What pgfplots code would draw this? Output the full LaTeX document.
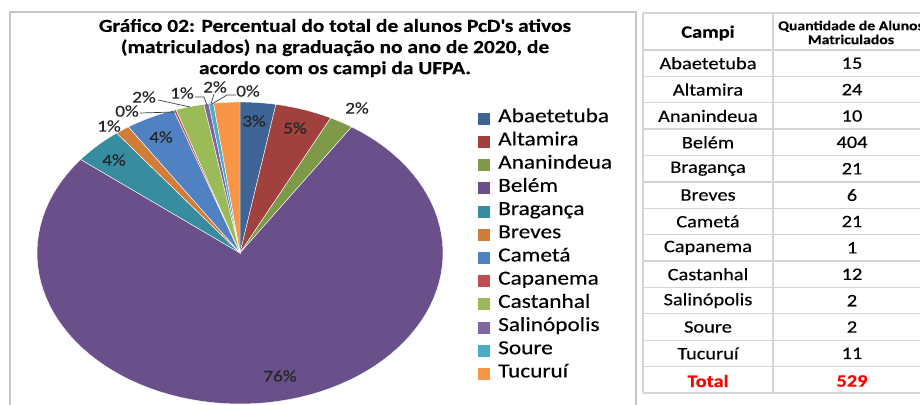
\documentclass[border=0pt]{standalone}
\usepackage{pgfplots}
\pgfplotsset{compat=1.18}
\usepackage{pgfplotstable}
\usepackage{fontspec}
\setmainfont{Carlito}[FakeStretch=1.17, FakeBold=0.3]

\definecolor{fatia0}{HTML}{3E6496}
\definecolor{fatia1}{HTML}{A0413E}
\definecolor{fatia2}{HTML}{7E9948}
\definecolor{fatia3}{HTML}{69508A}
\definecolor{fatia4}{HTML}{388CA0}
\definecolor{fatia5}{HTML}{D27D37}
\definecolor{fatia6}{HTML}{5082C3}
\definecolor{fatia7}{HTML}{C0504D}
\definecolor{fatia8}{HTML}{9BBB59}
\definecolor{fatia9}{HTML}{8064A2}
\definecolor{fatia10}{HTML}{4BACC6}
\definecolor{fatia11}{HTML}{F79646}
\definecolor{rotulo}{HTML}{262626}
\definecolor{grade}{HTML}{D4D4D4}

% alunos PcD matriculados por campus
\pgfplotstableread{
campus n
Abaetetuba 15
Altamira 24
Ananindeua 10
Belém 404
Bragança 21
Breves 6
Cametá 21
Capanema 1
Castanhal 12
Salinópolis 2
Soure 2
Tucuruí 11
}\dados

\begin{document}
\begin{tikzpicture}
\path[use as bounding box] (0bp,0bp) rectangle (920bp,405bp);

% total
\pgfmathsetmacro\total{0}
\pgfplotsforeachungrouped \i in {0,...,11}{%
  \pgfplotstablegetelem{\i}{n}\of\dados
  \pgfmathsetmacro\total{\total+\pgfplotsretval}}

\begin{axis}[
  at={(240bp,152bp)}, anchor=center,
  width=406bp, height=302bp, scale only axis,
  xmin=-1, xmax=1, ymin=-1, ymax=1,
  hide axis, clip=false,
  legend cell align=left,
  legend image code/.code={\fill[#1,draw=none] (0bp,-6bp) rectangle (12bp,6bp);},
  legend style={at={(1.0788,0.99)}, anchor=north west, draw=none, fill=none,
    font=\fontsize{20}{24}\selectfont, row sep=0pt, column sep=8bp,
    nodes={inner sep=0pt, text height=15bp, text depth=8.2bp}},
]
\pgfmathsetmacro\acum{0}
\pgfplotsforeachungrouped \i in {0,...,11}{%
  \pgfplotstablegetelem{\i}{n}\of\dados
  \pgfmathsetmacro\aIni{90-360*(\acum/\total)}
  \pgfmathsetmacro\acum{\acum+\pgfplotsretval}
  \pgfmathsetmacro\aFim{90-360*(\acum/\total)}
  \pgfplotstablegetelem{\i}{campus}\of\dados
  \edef\nome{\pgfplotsretval}
  \edef\cmd{\noexpand\addplot[fill=fatia\i, draw=white, line width=0.4bp,
      domain=\aFim:\aIni, samples=90, variable=\noexpand\t]
      ({cos(\noexpand\t)},{sin(\noexpand\t)}) -- (axis cs:0,0) -- cycle;
    \noexpand\addlegendentry{\nome}}%
  \cmd
}
\end{axis}

\begin{scope}[x=1bp,y=1bp]
% moldura do grafico
\draw[gray!45, line width=1.3bp] (10,-10) -- (10,393) -- (636,393) -- (636,-10);

\node[align=center, font=\bfseries\fontsize{18.4}{21.2}\selectfont] at (335,405-48)
  {Gráfico 02: Percentual do total de alunos PcD\textquotesingle s ativos\\
   (matriculados) na graduação no ano de 2020, de\\
   acordo com os campi da UFPA.};

% rotulos de porcentagem
\foreach \px/\py/\txt in {254/121/3\%, 295/128/5\%, 357/108/2\%, 114/160/4\%,
    161/137/4\%, 109/126/1\%, 127/111/0\%, 144/97/2\%, 182/93/1\%,
    215/87/2\%, 248/91/0\%, 280/376/76\%}
  \node[text=rotulo, font=\fontsize{16.5}{18}\selectfont, inner sep=0pt]
    at (\px,405-\py) {\txt};

% linhas guia
\begin{scope}[black!75, line width=0.7bp]
\draw (140,405-113) -- (175,405-112);
\draw (158,405-100) -- (190,405-107);
\draw (195,405-97) -- (204,405-97) -- (207,405-105);
\draw (214,405-94) -- (211,405-104);
\draw (212,405-104) -- (227,405-95) -- (236,405-95);
\end{scope}

% tabela
\foreach \k in {0,...,13}
  \draw[grade, line width=1.3bp] (643,405-50-26.38*\k) -- (935,405-50-26.38*\k);
\draw[grade, line width=1.3bp] (643,405-13) -- (935,405-13);
\foreach \xx in {643,773}
  \draw[grade, line width=1.3bp] (\xx,405-13) -- (\xx,405-393);

\node[font=\bfseries\fontsize{17.5}{20}\selectfont] at (708,405-33) {Campi};
\node[font=\bfseries\fontsize{13.5}{15.5}\selectfont, align=center] at (851,405-32.5)
  {Quantidade de Alunos\\[-1.5bp]Matriculados};

\foreach \k in {0,...,11}{
  \pgfplotstablegetelem{\k}{campus}\of\dados
  \node[font=\fontsize{17.5}{20}\selectfont] at (708,405-50-26.38*\k-13.19)
    {\pgfplotsretval};
  \pgfplotstablegetelem{\k}{n}\of\dados
  \node[font=\fontsize{17.5}{20}\selectfont] at (852,405-50-26.38*\k-13.19)
    {\pgfplotsretval};
}
\node[font=\bfseries\fontsize{17.5}{20}\selectfont, text=red] at (708,405-381) {Total};
\node[font=\bfseries\fontsize{17.5}{20}\selectfont, text=red] at (852,405-381) {529};
\end{scope}
\end{tikzpicture}
\end{document}
